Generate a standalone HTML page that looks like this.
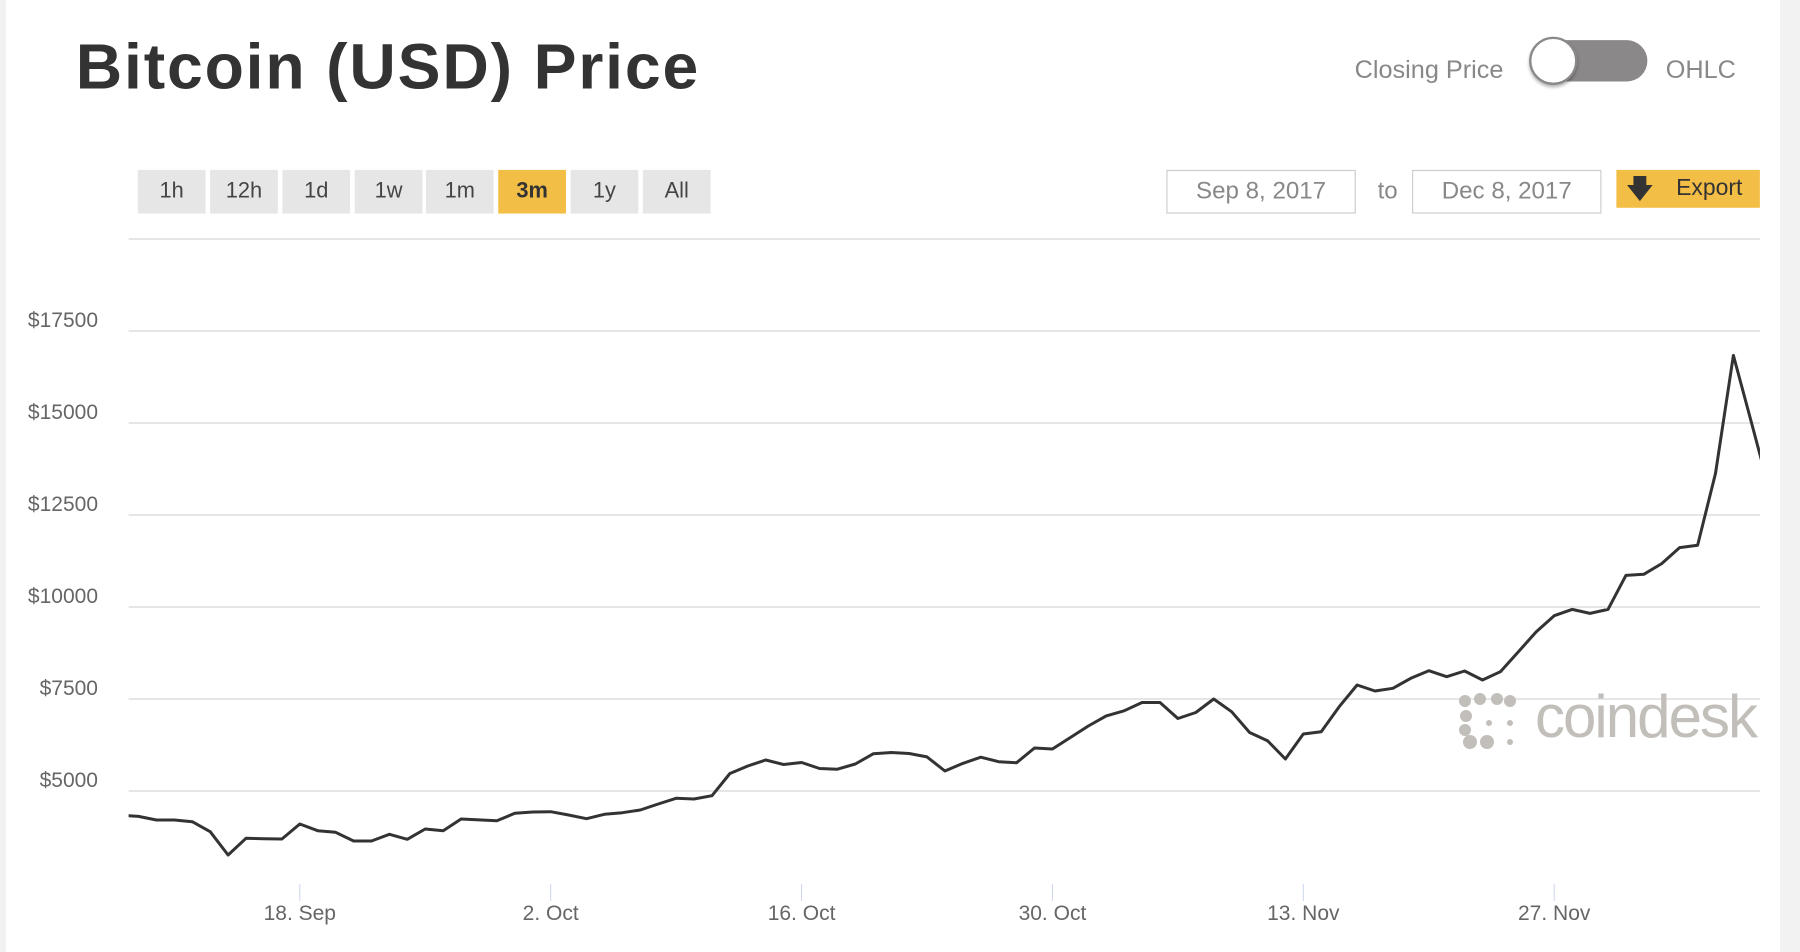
<!DOCTYPE html>
<html><head><meta charset="utf-8"><style>
html,body{margin:0;padding:0;background:#fff;}
body{width:1800px;height:952px;overflow:hidden;position:relative;font-family:"Liberation Sans",sans-serif;}
#hdr{position:absolute;left:0;top:0;width:1568px;height:220px;transform:scale(1.148);transform-origin:0 0;}
.a{position:absolute;}
.btn{position:absolute;top:148px;height:38px;width:59px;background:#e6e6e6;color:#444;font-size:19px;line-height:38px;text-align:center;}
.box{position:absolute;top:148px;height:36px;border:1px solid #ccc;color:#888;font-size:21px;line-height:36px;text-align:center;}
</style></head><body>
<div class="a" style="left:0;top:0;width:6px;height:952px;background:#f2f2f2"></div>
<div class="a" style="left:1780px;top:0;width:20px;height:952px;background:#f2f2f2"></div>
<div id="hdr">
  <div class="a" style="left:66px;top:25px;font-size:56px;letter-spacing:1.6px;font-weight:bold;color:#333;">Bitcoin (USD) Price</div>
  <div class="a" style="left:1180px;top:48px;font-size:22px;color:#888;">Closing Price</div>
  <div class="a" style="left:1335px;top:35px;width:100px;height:36px;border-radius:18px;background:#8a8889;"></div>
  <div class="a" style="left:1332px;top:32px;width:38px;height:38px;border-radius:50%;background:#fff;border:2px solid #8a8889;box-shadow:0 2px 3px rgba(0,0,0,0.3);"></div>
  <div class="a" style="left:1451px;top:48px;font-size:22px;color:#888;">OHLC</div>
  <div class="btn" style="left:120px">1h</div>
  <div class="btn" style="left:183px">12h</div>
  <div class="btn" style="left:246px">1d</div>
  <div class="btn" style="left:309px">1w</div>
  <div class="btn" style="left:371px">1m</div>
  <div class="btn" style="left:434px;background:#f3be45;font-weight:bold;color:#333">3m</div>
  <div class="btn" style="left:497px">1y</div>
  <div class="btn" style="left:560px">All</div>
  <div class="box" style="left:1016px;width:163px">Sep 8, 2017</div>
  <div class="a" style="left:1200px;top:155px;font-size:21px;color:#888">to</div>
  <div class="box" style="left:1230px;width:163px">Dec 8, 2017</div>
  <div class="a" style="left:1408px;top:148px;width:125px;height:33px;background:#f3be45;color:#333;font-size:20px;line-height:33px;">
    <span style="position:absolute;left:9px;top:0;font-size:22px;font-weight:bold">&#129095;</span>
    <span style="position:absolute;left:52px">Export</span>
  </div>
</div>
<svg class="a" style="left:0;top:0" width="1800" height="952">
  <line x1="128.6" y1="239" x2="1760" y2="239" stroke="#e6e6e6" stroke-width="2"/>
  <defs><clipPath id="clip"><rect x="128.6" y="250" width="1631.4" height="640"/></clipPath></defs>
  <g id="grid"></g>
  <g id="ylabels"></g>
  <g id="xaxis"></g>
  <g fill="#c2beba">
    <circle cx="1465" cy="701" r="6"/><circle cx="1480" cy="699" r="6"/><circle cx="1497" cy="699" r="6"/><circle cx="1510" cy="701" r="6"/>
    <circle cx="1466" cy="716" r="6"/><circle cx="1465" cy="730" r="6"/><circle cx="1470" cy="742" r="7"/><circle cx="1487" cy="742" r="7"/>
    <circle cx="1489" cy="723" r="3"/><circle cx="1510" cy="723" r="3"/><circle cx="1510" cy="742" r="3"/>
    <text x="1535" y="737" font-size="60" textLength="223" font-family="Liberation Sans, sans-serif">coindesk</text>
  </g>
  <path id="line" clip-path="url(#clip)" fill="none" stroke="#333" stroke-width="3" stroke-linejoin="round"/>
</svg>
<script>
const dates = ["Sep 8","Sep 9","Sep 10","Sep 11","Sep 12","Sep 13","Sep 14","Sep 15","Sep 16","Sep 17","Sep 18","Sep 19","Sep 20","Sep 21","Sep 22","Sep 23","Sep 24","Sep 25","Sep 26","Sep 27","Sep 28","Sep 29","Sep 30","Oct 1","Oct 2","Oct 3","Oct 4","Oct 5","Oct 6","Oct 7","Oct 8","Oct 9","Oct 10","Oct 11","Oct 12","Oct 13","Oct 14","Oct 15","Oct 16","Oct 17","Oct 18","Oct 19","Oct 20","Oct 21","Oct 22","Oct 23","Oct 24","Oct 25","Oct 26","Oct 27","Oct 28","Oct 29","Oct 30","Oct 31","Nov 1","Nov 2","Nov 3","Nov 4","Nov 5","Nov 6","Nov 7","Nov 8","Nov 9","Nov 10","Nov 11","Nov 12","Nov 13","Nov 14","Nov 15","Nov 16","Nov 17","Nov 18","Nov 19","Nov 20","Nov 21","Nov 22","Nov 23","Nov 24","Nov 25","Nov 26","Nov 27","Nov 28","Nov 29","Nov 30","Dec 1","Dec 2","Dec 3","Dec 4","Dec 5","Dec 6","Dec 7","Dec 8","Dec 9"];
const prices = [4340,4310,4212,4212,4166,3894,3261,3715,3700,3696,4103,3921,3878,3642,3642,3823,3687,3968,3921,4239,4215,4194,4393,4429,4438,4348,4248,4366,4411,4484,4647,4801,4782,4872,5476,5679,5842,5720,5774,5611,5592,5733,6010,6046,6019,5927,5543,5750,5919,5796,5769,6168,6141,6454,6766,7040,7180,7405,7405,6970,7133,7500,7155,6590,6366,5869,6549,6611,7290,7880,7717,7790,8062,8268,8105,8260,8016,8241,8784,9328,9763,9936,9827,9936,10860,10888,11180,11614,11676,13631,16836,15026,13200];
const yTicks = [5000,7500,10000,12500,15000,17500];
const yTickLabels = ["$5000","$7500","$10000","$12500","$15000","$17500"];
const xTickDates = ["Sep 18","Oct 2","Oct 16","Oct 30","Nov 13","Nov 27"];
const xTickLabels = ["18. Sep","2. Oct","16. Oct","30. Oct","13. Nov","27. Nov"];

const NS="http://www.w3.org/2000/svg";
const xAt = i => 120.6 + i*17.92;
const xScale = d => xAt(dates.indexOf(d));
const yScale = v => 791 - (v-5000)*(92/2500);
const grid=document.getElementById('grid'), yl=document.getElementById('ylabels'), xa=document.getElementById('xaxis');
yTicks.forEach((v,i)=>{
  const l=document.createElementNS(NS,'line');
  l.setAttribute('x1',128.6);l.setAttribute('x2',1760);l.setAttribute('y1',yScale(v));l.setAttribute('y2',yScale(v));
  l.setAttribute('stroke','#e6e6e6');l.setAttribute('stroke-width','2');
  
  
  grid.appendChild(l);
  const t=document.createElementNS(NS,'text');
  t.setAttribute('x',98);t.setAttribute('y',yScale(v)-4);t.setAttribute('text-anchor','end');
  t.setAttribute('font-size','21');t.setAttribute('fill','#666');t.textContent=yTickLabels[i];
  
  
  yl.appendChild(t);
});
xTickDates.forEach((d,i)=>{
  const x=xScale(d);
  const l=document.createElementNS(NS,'line');
  l.setAttribute('x1',x);l.setAttribute('x2',x);l.setAttribute('y1',884);l.setAttribute('y2',901);
  l.setAttribute('stroke','#ccd6eb');l.setAttribute('stroke-width','1');
  
  
  xa.appendChild(l);
  const t=document.createElementNS(NS,'text');
  t.setAttribute('x',x);t.setAttribute('y',920);t.setAttribute('text-anchor','middle');
  t.setAttribute('font-size','21');t.setAttribute('fill','#666');t.textContent=xTickLabels[i];
  
  
  xa.appendChild(t);
});
const p=document.getElementById('line');
p.setAttribute('d',prices.map((v,i)=>(i?'L':'M')+xAt(i).toFixed(1)+' '+yScale(v).toFixed(1)).join(' '));


</script>
</body></html>
